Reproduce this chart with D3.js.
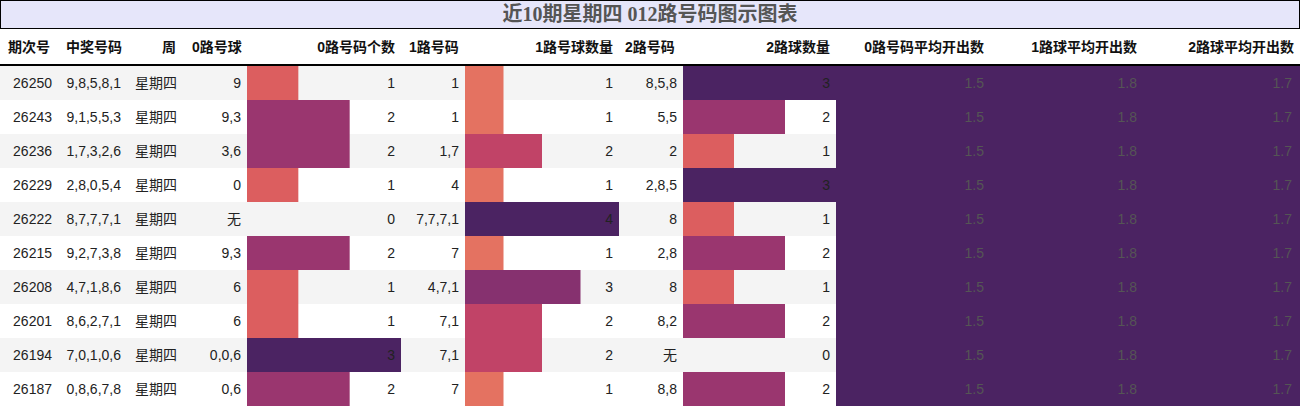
<!DOCTYPE html>
<html><head><meta charset="utf-8">
<script src="https://cdn.jsdelivr.net/npm/d3@7"></script>
<style>body{margin:0;background:#fff}</style>
</head><body>
<script>
// data
var issues = ["26250","26243","26236","26229","26222","26215","26208","26201","26194","26187"];
var draws = ["9,8,5,8,1","9,1,5,5,3","1,7,3,2,6","2,8,0,5,4","8,7,7,7,1","9,2,7,3,8","4,7,1,8,6","8,6,2,7,1","7,0,1,0,6","0,8,6,7,8"];
var r0 = ["9","9,3","3,6","0","无","9,3","6","6","0,0,6","0,6"];
var c0 = [1,2,2,1,0,2,1,1,3,2];
var r1 = ["1","1","1,7","4","7,7,7,1","7","4,7,1","7,1","7,1","7"];
var c1 = [1,1,2,1,4,1,3,2,2,1];
var r2 = ["8,5,8","5,5","2","2,8,5","8","2,8","8","8,2","无","8,8"];
var c2 = [3,2,1,3,1,2,1,2,0,2];
var avg0 = 1.5, avg1 = 1.8, avg2 = 1.7;
var headers = ["期次号","中奖号码","周","0路号球","0路号码个数","1路号码","1路号球数量","2路号码","2路球数量","0路号码平均开出数","1路球平均开出数","2路球平均开出数"];

var W = 1300, H = 406;
var edges = [0,58,126,182,247,401,465,619,683,836,990,1143,1300];
var titleH = 29, headH = 36, rowH = 34;
var flare = d3.interpolateRgbBasis(["#edb081","#e98d6b","#e3685c","#d14a61","#b13c6c","#8f3371","#6c2b6d","#4b2362"]);

var svg = d3.select("body").append("svg").attr("width",W).attr("height",H)
	.style("font-family","'Liberation Sans','Noto Sans CJK SC',sans-serif");

//title
svg.append("rect").attr("x",0.5).attr("y",0.5).attr("width",W-1).attr("height",titleH-1)
	.attr("fill","#e6e6fa").attr("stroke","#000");
svg.append("text").attr("x",W/2).attr("y",21).attr("text-anchor","middle")
	.style("font-family","'Liberation Serif','Noto Sans CJK SC',serif")
	.style("font-weight","bold").style("font-size","20px").attr("fill","#555")
	.text("近10期星期四 012路号码图示图表");

//header
headers.forEach(function(h,i){
	var x = i==3 ? edges[i]+10 : (i==5 ? edges[i]+8 : edges[i+1]-6);
	var anchor = (i==3||i==5) ? "start" : "end";
	if(i==0||i==1) {x = edges[i]+ (i==0?8:8); anchor="start";}
	if(i==7){x = edges[i]+6; anchor="start";}
	svg.append("text").attr("x",x).attr("y",titleH+headH/2+5).attr("text-anchor",anchor)
		.style("font-weight","bold").style("font-size","14px").attr("fill","#111").text(h);
});
svg.append("line").attr("x1",0).attr("x2",W).attr("y1",titleH+headH).attr("y2",titleH+headH)
	.attr("stroke","#000").attr("stroke-width",2);

var y = d3.scaleBand().domain(issues).range([titleH+headH+1, titleH+headH+1+rowH*issues.length]);
var xb0 = d3.scaleLinear().domain([0,d3.max(c0)]).range([0,edges[5]-edges[4]]);
var xb1 = d3.scaleLinear().domain([0,d3.max(c1)]).range([0,edges[7]-edges[6]]);
var xb2 = d3.scaleLinear().domain([0,d3.max(c2)]).range([0,edges[9]-edges[8]]);

var rows = svg.selectAll("g.row").data(issues).enter().append("g").attr("class","row")
	.attr("transform",function(d){return "translate(0,"+y(d)+")";});
rows.append("rect").attr("width",W).attr("height",rowH)
	.attr("fill",function(d,i){return i%2==0 ? "#f4f4f4" : "#fff";});

function bar(col,vals,scale){
	var mx = d3.max(vals);
	rows.append("rect").attr("x",edges[col]).attr("height",rowH)
		.attr("width",function(d,i){return scale(vals[i]);})
		.attr("fill",function(d,i){return flare(vals[i]/mx);});
}
bar(4,c0,xb0); bar(6,c1,xb1); bar(8,c2,xb2);
[9,10,11].forEach(function(c){
	rows.append("rect").attr("x",edges[c]).attr("width",edges[c+1]-edges[c]).attr("height",rowH).attr("fill",flare(1));
});

function txt(col,vals,color,anchor,dx){
	rows.append("text").attr("x",anchor=="start"?edges[col]+dx:edges[col+1]-dx).attr("y",rowH/2+5)
		.attr("text-anchor",anchor).style("font-size","14px")
		.attr("fill",color||"#222").text(function(d,i){return vals[i];});
}
txt(0,issues,null,"end",6);
txt(1,draws,null,"end",5);
txt(2,issues.map(function(){return "星期四";}),null,"end",5);
txt(3,r0,null,"end",6);
txt(4,c0,"#222","end",6);
txt(5,r1,null,"end",6);
txt(6,c1,"#222","end",6);
txt(7,r2,null,"end",6);
txt(8,c2,"#222","end",6);
txt(9,issues.map(function(){return avg0.toFixed(1);}),"#555","end",6);
txt(10,issues.map(function(){return avg1.toFixed(1);}),"#555","end",6);
txt(11,issues.map(function(){return avg2.toFixed(1);}),"#555","end",8);
</script>
</body></html>
